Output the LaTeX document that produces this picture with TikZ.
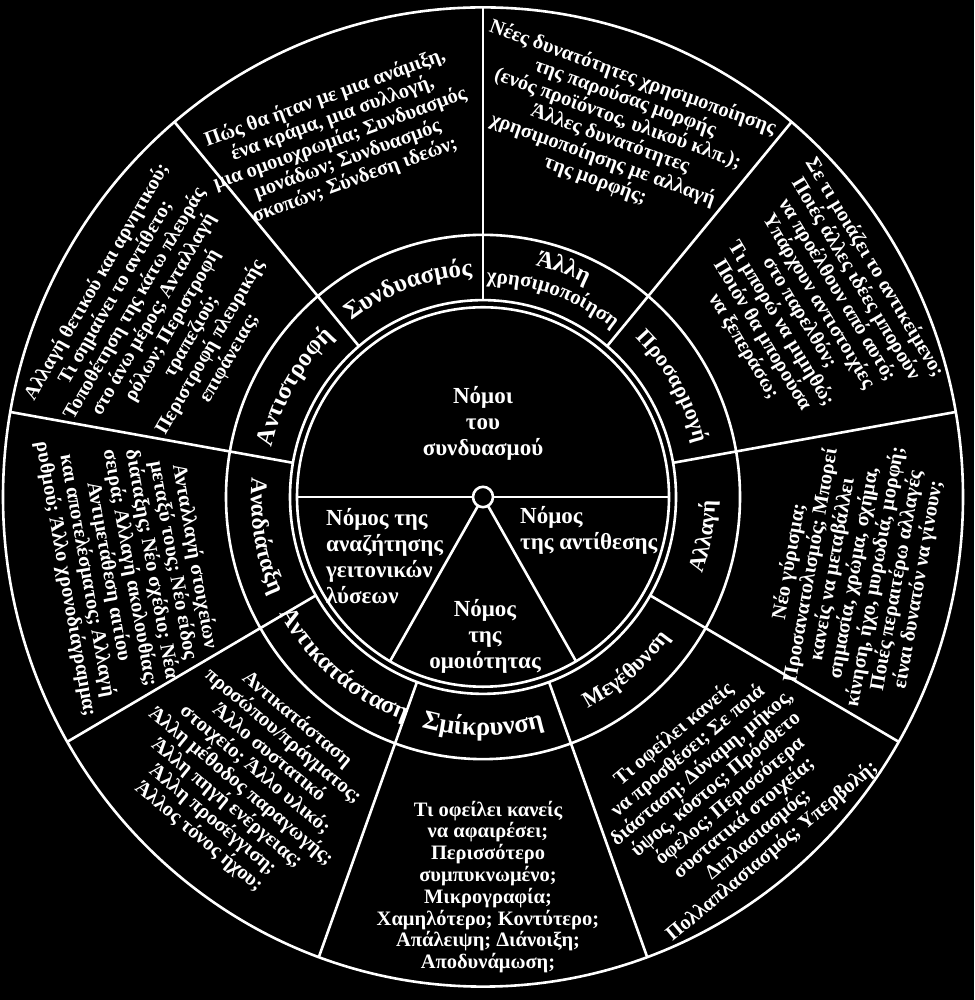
\documentclass[tikz,border=0pt]{standalone}
\usepackage{fontspec}
\setmainfont{Liberation Serif}
\usetikzlibrary{decorations.text}
\newcommand\ringfont[1]{\fontsize{#1}{#1}\selectfont\bfseries}
\newcommand\ringup[4]{% centre angle, baseline radius, size, text (upper half, clockwise)
  \path[decorate, decoration={text along path, text align=center, text color=white, text={|\ringfont{#3}|#4}}]
    ({#1+40}:#2) arc[start angle={#1+40}, end angle={#1-40}, radius=#2];}
\newcommand\ringdown[4]{% centre angle, baseline radius, size, text (lower half, counter-clockwise)
  \path[decorate, decoration={text along path, text align=center, text color=white, text={|\ringfont{#3}|#4}}]
    ({#1-40}:#2) arc[start angle={#1-40}, end angle={#1+40}, radius=#2];}
\begin{document}
\begin{tikzpicture}[x=1pt,y=1pt,
  wl/.style={white, line width=2.6pt},
  outertext/.style={text=white, font=\fontsize{20.5}{21.8}\selectfont\bfseries, align=center, inner sep=0pt},
  innertext/.style={text=white, font=\fontsize{23}{26}\selectfont\bfseries, inner sep=0pt},
]
\fill[black] (0,0) rectangle (974,1000);
\useasboundingbox (0,0) rectangle (974,1000);
\begin{scope}[shift={(483,503)}, yscale=1.02]
  \coordinate (C) at (0,0);
  \draw[wl] (C) circle[radius=480];
  \draw[wl] (C) circle[radius=257];
  \draw[wl] (C) circle[radius=193];
  \draw[wl] (C) circle[radius=186];
  \foreach \a in {90,50,...,-230} \draw[wl] (\a:193) -- (\a:480);
  \draw[wl] (180:186) -- (0:186);
  \draw[wl] (C) -- (240:186);
  \draw[wl] (C) -- (300:186);
  \filldraw[wl, fill=black] (C) circle[radius=10];
  % ring labels
  \ringup{110}{217}{25}{Συνδυασμός}
  \ringup{70.5}{233}{24}{Άλλη}
  \ringup{70.5}{210}{21}{χρησιμοποίηση}
  \ringup{30}{218}{22}{Προσαρμογή}
  \ringup{150}{217}{25}{Αντιστροφή}
  \ringdown{-10}{232}{22.5}{Αλλαγή}
  \ringdown{-50}{232}{22.5}{Μεγέθυνση}
  \ringdown{-90}{234}{26.5}{Σμίκρυνση}
  \ringdown{-130}{233}{25}{Αντικατάσταση}
  \ringdown{-170}{232}{23.5}{Αναδιάταξη}
\end{scope}
% outer sector texts
\node[outertext, rotate=20] (t110) at (340,861) {Πώς θα ήταν με μια ανάμιξη,\\ένα κράμα, μια συλλογή,\\μια ομοιοχρωμία; Συνδυασμός\\μονάδων; Συνδυασμός\\σκοπών; Σύνδεση ιδεών;};
\node[outertext, rotate=-20] (t70) at (614,871) {Νέες δυνατότητες χρησιμοποίησης\\της παρούσας μορφής\\(ενός προϊόντος, υλικού κλπ.);\\Άλλες δυνατότητες\\χρησιμοποίησης με αλλαγή\\της μορφής;};
\node[outertext, rotate=-59] (t30) at (809,693) {Σε τι μοιάζει το αντικείμενο;\\Ποιές άλλες ιδέες μπορούν\\να προέλθουν από αυτό;\\Υπάρχουν αντιστοιχίες\\στο παρελθόν;\\Τι μπορώ να μιμηθώ;\\Ποιόν θα μπορούσα\\να ξεπεράσω;};
\node[outertext, rotate=80] (tm10) at (854,427) {Νέο γύρισμα;\\Προσανατολισμός; Μπορεί\\κανείς να μεταβάλλει\\σημασία, χρώμα, σχήμα,\\κίνηση, ήχο, μυρωδιά, μορφή;\\Ποιές περαιτέρω αλλαγές\\είναι δυνατόν να γίνουν;};
\node[outertext, rotate=40] (tm50) at (723,207) {Τι οφείλει κανείς\\να προσθέσει; Σε ποιά\\διάσταση; Δύναμη, μήκος,\\ύψος, κόστος; Πρόσθετο\\όφελος; Περισσότερα\\συστατικά στοιχεία;\\Διπλασιασμός;\\Πολλαπλασιασμός; Υπερβολή;};
\node[outertext] (tm90) at (488,113) {Τι οφείλει κανείς\\να αφαιρέσει;\\Περισσότερο\\συμπυκνωμένο;\\Μικρογραφία;\\Χαμηλότερο; Κοντύτερο;\\Απάλειψη; Διάνοιξη;\\Αποδυνάμωση;};
\node[outertext, rotate=-40] (t230) at (248,222) {Αντικατάσταση\\προσώπου/πράγματος;\\Άλλο συστατικό\\στοιχείο; Άλλο υλικό;\\Άλλη μέθοδος παραγωγής;\\Άλλη πηγή ενέργειας;\\Άλλη προσέγγιση;\\Άλλος τόνος ήχου;};
\node[outertext, rotate=-80] (t190) at (130,432) {Ανταλλαγή στοιχείων\\μεταξύ τους; Νέο είδος\\διάταξης; Νέο σχέδιο; Νέα\\σειρά; Αλλαγή ακολουθίας;\\Αντιμετάθεση αιτίου\\και αποτελέσματος; Αλλαγή\\ρυθμού; Άλλο χρονοδιάγραμμα;};
\node[outertext, font=\fontsize{20}{21.8}\selectfont\bfseries, rotate=60] (t150) at (163,680) {Αλλαγή θετικού και αρνητικού;\\Τι σημαίνει το αντίθετο;\\Τοποθέτηση της κάτω πλευράς\\στο άνω μέρος; Ανταλλαγή\\ρόλων; Περιστροφή\\τραπεζιού;\\Περιστροφή πλευρικής\\επιφάνειας;};
% inner texts
\node[innertext, align=center] (n1) at (483,577) {Νόμοι\\του\\συνδυασμού};
\node[innertext, align=left, anchor=west] (n2) at (326,444) {Νόμος της\\αναζήτησης\\γειτονικών\\λύσεων};
\node[innertext, align=left, anchor=west] (n3) at (520,470) {Νόμος\\της αντίθεσης};
\node[innertext, align=center] (n4) at (485,364) {Νόμος\\της\\ομοιότητας};
\end{tikzpicture}
\end{document}
